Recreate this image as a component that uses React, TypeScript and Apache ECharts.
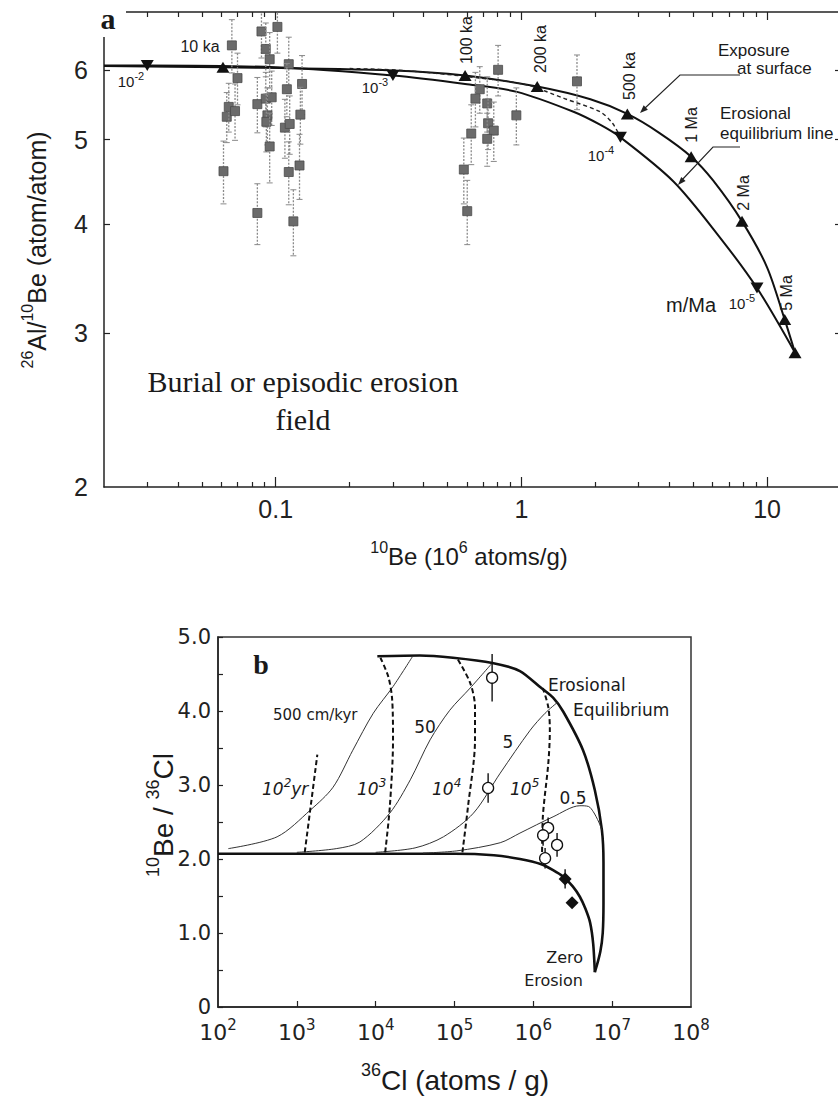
import React, { useEffect, useRef } from "react";
import * as echarts from "echarts";

// ================= Panel a : 26Al/10Be vs 10Be =================
const aXLabelValues = [0.1, 1, 10];
const aXMajorTicks = [0.1, 1, 10];
const aXMinorTicks = [0.03, 0.04, 0.05, 0.06, 0.07, 0.08, 0.09, 0.2, 0.3, 0.4, 0.5, 0.6, 0.7, 0.8, 0.9, 2, 3, 4, 5, 6, 7, 8, 9];
const aYLabelValues = [2, 3, 4, 5, 6];
const aYTickValues = [3, 4, 5, 6];

// constant exposure at surface (upper curve)
const exposureX = [0.02, 0.061, 0.3, 0.59, 1.16, 1.91, 2.7, 3.64, 4.91, 6.03, 7.91, 10.0, 11.8, 13.0];
const exposureY = [6.07, 6.05, 6.0, 5.92, 5.75, 5.56, 5.35, 5.09, 4.78, 4.49, 4.03, 3.57, 3.11, 2.85];
// erosional equilibrium line (lower curve)
const equilibriumX = [0.02, 0.03, 0.1, 0.3, 0.59, 0.96, 1.63, 2.09, 2.53, 4.15, 6.26, 9.1, 13.0];
const equilibriumY = [6.08, 6.08, 6.05, 5.92, 5.79, 5.67, 5.38, 5.2, 5.03, 4.48, 3.9, 3.38, 2.85];
// dashed transition curve
const transitionX = [0.2, 0.33, 0.68, 1.04, 1.5, 2.09, 2.35, 2.53];
const transitionY = [6.03, 6.0, 5.88, 5.78, 5.57, 5.38, 5.22, 5.03];

// exposure-age markers (▲) and erosion-rate markers (▼)
const ageMarkX = [0.061, 0.59, 1.16, 2.7, 4.91, 7.91, 11.8, 13.0];
const ageMarkY = [6.05, 5.92, 5.75, 5.35, 4.78, 4.03, 3.11, 2.85];
const rateMarkX = [0.03, 0.3, 2.53, 9.1];
const rateMarkY = [6.08, 5.92, 5.03, 3.38];

// samples with 1-sigma error bars
const sampleX = [0.0613, 0.0632, 0.0644, 0.0683, 0.0699, 0.0663, 0.0842, 0.0842, 0.0875, 0.0911, 0.0945, 0.0911, 0.0963, 0.0925, 0.0916, 0.0945, 0.1016, 0.113, 0.111, 0.109, 0.114, 0.113, 0.118, 0.128, 0.126, 0.125,
  0.804, 0.677, 0.65, 0.726, 0.625, 0.732, 0.772, 0.726, 0.583, 0.602, 0.954, 1.684];
const sampleY = [4.6, 5.31, 5.45, 5.39, 5.88, 6.41, 5.49, 4.12, 6.65, 6.35, 6.18, 5.57, 5.59, 5.33, 5.24, 4.91, 6.73, 6.1, 5.71, 5.16, 5.21, 4.59, 4.03, 5.79, 5.34, 4.67,
  6.01, 5.71, 5.57, 5.5, 5.08, 5.22, 5.12, 5.01, 4.62, 4.14, 5.33, 5.83];
const sampleErr = [0.38, 0.35, 0.35, 0.4, 0.4, 0.45, 0.4, 0.33, 0.45, 0.45, 0.45, 0.4, 0.4, 0.4, 0.4, 0.45, 0.45, 0.45, 0.4, 0.4, 0.4, 0.38, 0.35, 0.45, 0.4, 0.4,
  0.4, 0.35, 0.4, 0.4, 0.4, 0.35, 0.4, 0.35, 0.4, 0.35, 0.4, 0.42];

// ================= Panel b : 10Be/36Cl vs 36Cl =================
const bXLabelValues = [1e2, 1e3, 1e4, 1e5, 1e6, 1e7, 1e8];
const bXTickValues = [1e3, 1e4, 1e5, 1e6, 1e7];

const erosEqX = [1.05e4, 3.63e4, 9.55e4, 3.02e5, 6.76e5, 1.23e6, 1.78e6, 2.4e6, 4.27e6, 6.03e6, 7.41e6, 7.76e6, 7.76e6, 7.59e6, 7.08e6, 6.03e6];
const erosEqY = [4.74, 4.75, 4.72, 4.65, 4.54, 4.32, 4.18, 3.99, 3.47, 2.93, 2.39, 1.95, 1.4, 1.0, 0.75, 0.47];
const zeroErosX = [100, 1000, 1e4, 1e5, 3.16e5, 6.76e5, 1.26e6, 1.78e6, 2.4e6, 3.16e6, 3.89e6, 4.57e6, 5.25e6, 5.75e6, 6.03e6];
const zeroErosY = [2.07, 2.07, 2.07, 2.07, 2.05, 2.0, 1.93, 1.85, 1.76, 1.63, 1.49, 1.33, 1.14, 0.85, 0.47];

const rate500X = [135, 562, 1.48e3, 2.88e3, 5.13e3, 9.33e3, 1.66e4, 2.95e4];
const rate500Y = [2.14, 2.3, 2.66, 2.97, 3.47, 3.97, 4.33, 4.74];
const rate50X = [1000, 3.16e3, 6.31e3, 1.51e4, 2.75e4, 4.9e4, 8.71e4, 1.58e5, 3.02e5];
const rate50Y = [2.09, 2.14, 2.23, 2.62, 3.07, 3.61, 4.01, 4.31, 4.65];
const rate5X = [1e4, 3.16e4, 7.24e4, 1.74e5, 3.8e5, 9.12e5, 1.41e6, 2.04e6];
const rate5Y = [2.09, 2.15, 2.3, 2.62, 3.16, 3.74, 3.97, 4.12];
const rate05X = [3.98e4, 1.07e5, 3.8e5, 6.76e5, 1.78e6, 3.89e6, 5.01e6, 5.75e6, 6.76e6, 7.41e6];
const rate05Y = [2.08, 2.11, 2.22, 2.35, 2.57, 2.72, 2.71, 2.64, 2.5, 2.39];

const iso1e2X = [1.26e3, 1.82e3];
const iso1e2Y = [2.09, 3.41];
const iso1e3X = [1.32e4, 1.51e4, 1.66e4, 1.62e4, 1.45e4, 1.15e4];
const iso1e3Y = [2.09, 2.7, 3.61, 4.15, 4.46, 4.72];
const iso1e4X = [1.26e5, 1.48e5, 1.82e5, 1.82e5, 1.58e5, 1.07e5];
const iso1e4Y = [2.09, 2.7, 3.61, 4.05, 4.38, 4.72];
const iso1e5X = [1.29e6, 1.32e6, 1.55e6, 1.62e6, 1.55e6, 1.32e6];
const iso1e5Y = [1.99, 2.57, 3.3, 3.74, 4.05, 4.31];

const openX = [3.0e5, 2.67e5, 1.54e6, 1.33e6, 2.0e6, 1.41e6];
const openY = [4.45, 2.96, 2.42, 2.32, 2.19, 2.01];
const openErr = [0.32, 0.2, 0.14, 0.14, 0.16, 0.14];
const filledX = [2.53e6, 3.1e6];
const filledY = [1.73, 1.41];
const filledErr = [0.13, 0.05];

// ================= helpers =================
const FONT = "'Liberation Sans', Arial, sans-serif";
const SERIF = "'Liberation Serif', 'Times New Roman', serif";
const FONTB = "'DejaVu Sans', sans-serif";
const INK = "#1a1a1a";

const zip = (xs: number[], ys: number[]) => xs.map((x, i) => [x, ys[i]]);
const zip3 = (xs: number[], ys: number[], es: number[]) => xs.map((x, i) => [x, ys[i], es[i]]);

function errRender(color: string, dash: number[] | null, cap: number, width: number, square: boolean) {
  return (_p: any, api: any) => {
    const x = api.value(0), y = api.value(1), e = api.value(2);
    const c = api.coord([x, y]);
    const hi = api.coord([x, y + e]);
    const lo = api.coord([x, y - e]);
    const ls: any = { stroke: color, lineWidth: width };
    if (dash) ls.lineDash = dash;
    const children: any[] = [{ type: "line", shape: { x1: c[0], y1: hi[1], x2: c[0], y2: lo[1] }, style: ls }];
    if (cap > 0) {
      children.push({ type: "line", shape: { x1: c[0] - cap, y1: hi[1], x2: c[0] + cap, y2: hi[1] }, style: { stroke: color, lineWidth: 1 } });
      children.push({ type: "line", shape: { x1: c[0] - cap, y1: lo[1], x2: c[0] + cap, y2: lo[1] }, style: { stroke: color, lineWidth: 1 } });
    }
    if (square) {
      children.push({ type: "rect", shape: { x: c[0] - 4.5, y: c[1] - 4.5, width: 9, height: 9 }, style: { fill: "#6b6b6b", stroke: "#4a4a4a", lineWidth: 0.8 } });
    }
    return { type: "group", children };
  };
}

function T(x: number, y: number, text: string, o: any = {}) {
  const size = o.size || 16;
  const family = o.family || FONT;
  const st: any = {
    text,
    fill: o.color || INK,
    fontSize: size,
    fontFamily: family,
    fontWeight: o.weight || "normal",
    fontStyle: o.fstyle || "normal",
    textAlign: o.align || "center",
    textVerticalAlign: o.valign || "middle",
  };
  if (o.sup) {
    st.lineHeight = Math.round(size * 1.4);
    st.rich = {
      s: { fontSize: o.sup, fontFamily: family, fontStyle: o.fstyle || "normal", fill: o.color || INK, verticalAlign: "top", lineHeight: Math.round(o.sup * 1.15) },
    };
  }
  return { type: "text", x, y, rotation: o.rot || 0, z: o.z || 20, silent: true, style: st };
}

const axLine = { show: true, lineStyle: { color: "#222", width: 1.5 } };
const tickStyle = { color: "#222", width: 1.2 };

export default function App() {
  const ref = useRef<HTMLDivElement>(null);
  useEffect(() => {
    if (!ref.current) return;
    const chart = echarts.init(ref.current, null, { renderer: "svg" });

    const aLog = { type: "log", gridIndex: 0, min: 0.02, max: 20, logBase: 10, splitLine: { show: false }, minorTick: { show: false }, minorSplitLine: { show: false } };
    const xAxis: any[] = [
      { ...aLog, position: "bottom", axisLine: axLine,
        axisTick: { show: true, inside: true, length: 5, customValues: aXMinorTicks, lineStyle: tickStyle },
        axisLabel: { show: true, customValues: aXLabelValues, formatter: (v: number) => (v < 1 ? String(v) : String(Math.round(v))), fontSize: 25, fontFamily: FONT, color: "#222", margin: 9 } },
      { ...aLog, position: "bottom", axisLine: { show: false },
        axisTick: { show: true, inside: true, length: 10, customValues: aXMajorTicks, lineStyle: tickStyle }, axisLabel: { show: false } },
      { ...aLog, position: "top", axisLine: axLine,
        axisTick: { show: true, inside: true, length: 5, customValues: aXMinorTicks, lineStyle: tickStyle }, axisLabel: { show: false } },
      { ...aLog, position: "top", axisLine: { show: false },
        axisTick: { show: true, inside: true, length: 8, customValues: aXMajorTicks, lineStyle: tickStyle }, axisLabel: { show: false } },
      { type: "log", gridIndex: 1, min: 100, max: 1e8, logBase: 10, position: "bottom", axisLine: axLine,
        splitLine: { show: false }, minorTick: { show: false },
        axisTick: { show: true, inside: true, length: 6, customValues: bXTickValues, lineStyle: tickStyle },
        axisLabel: { show: true, customValues: bXLabelValues, fontSize: 22, fontFamily: FONTB, color: "#222", margin: 10, lineHeight: 30,
          formatter: (v: number) => "10{s|" + Math.round(Math.log10(v)) + "}",
          rich: { s: { fontSize: 15, fontFamily: FONTB, color: "#222", verticalAlign: "top", lineHeight: 17 } } } },
    ];
    const aYLog = { type: "log", gridIndex: 0, min: 2, max: 7, logBase: 10, splitLine: { show: false }, minorTick: { show: false } };
    const yAxis: any[] = [
      { ...aYLog, position: "left", axisLine: axLine,
        axisTick: { show: true, inside: true, length: 6, customValues: aYTickValues, lineStyle: tickStyle },
        axisLabel: { show: true, customValues: aYLabelValues, formatter: (v: number) => String(Math.round(v)), fontSize: 25, fontFamily: FONT, color: "#222", margin: 16 } },
      { ...aYLog, position: "right", axisLine: axLine,
        axisTick: { show: true, inside: true, length: 6, customValues: aYTickValues, lineStyle: tickStyle }, axisLabel: { show: false } },
      { type: "value", gridIndex: 1, min: 0, max: 5, interval: 0.5, position: "left", axisLine: axLine, splitLine: { show: false },
        axisTick: { show: true, inside: true, length: 5, lineStyle: tickStyle },
        axisLabel: { show: true, fontSize: 21, fontFamily: FONTB, color: "#222", margin: 7,
          formatter: (v: number) => (Math.abs(v - Math.round(v)) < 1e-6 ? (v === 0 ? "0" : v.toFixed(1)) : "") } },
    ];

    const lineA = (name: string, xs: number[], ys: number[], ls: any) => ({
      type: "line", name, xAxisIndex: 0, yAxisIndex: 0, data: zip(xs, ys), smooth: 0.3, symbol: "none", showSymbol: false, lineStyle: ls, z: 3, silent: true,
    });
    const lineB = (name: string, xs: number[], ys: number[], ls: any, smooth = 0.3) => ({
      type: "line", name, xAxisIndex: 4, yAxisIndex: 2, data: zip(xs, ys), smooth, symbol: "none", showSymbol: false, lineStyle: ls, z: 3, silent: true,
    });

    const thickB = { color: "#111", width: 2.6 };
    const thinB = { color: "#333", width: 1 };
    const dashB = { color: "#111", width: 2, type: [5, 3] };

    const series: any[] = [
      lineA("exposure", exposureX, exposureY, { color: "#111", width: 2 }),
      lineA("equilibrium", equilibriumX, equilibriumY, { color: "#111", width: 2 }),
      lineA("transition", transitionX, transitionY, { color: "#222", width: 1.4, type: [4, 3] }),
      { type: "custom", xAxisIndex: 0, yAxisIndex: 0, data: zip3(sampleX, sampleY, sampleErr), encode: { x: 0, y: 1 }, clip: true, z: 4, silent: true,
        renderItem: errRender("#8a8a8a", [2, 1.5], 3, 1.3, true) },
      { type: "scatter", xAxisIndex: 0, yAxisIndex: 0, data: zip(ageMarkX, ageMarkY), symbol: "triangle", symbolSize: [13, 11], itemStyle: { color: "#111", opacity: 1 }, z: 6, silent: true },
      { type: "scatter", xAxisIndex: 0, yAxisIndex: 0, data: zip(rateMarkX, rateMarkY), symbol: "triangle", symbolRotate: 180, symbolSize: [13, 11], itemStyle: { color: "#111", opacity: 1 }, z: 6, silent: true },

      lineB("erosional equilibrium", erosEqX, erosEqY, thickB, 0.25),
      lineB("zero erosion", zeroErosX, zeroErosY, thickB, 0.25),
      lineB("500 cm/kyr", rate500X, rate500Y, thinB),
      lineB("50 cm/kyr", rate50X, rate50Y, thinB),
      lineB("5 cm/kyr", rate5X, rate5Y, thinB),
      lineB("0.5 cm/kyr", rate05X, rate05Y, thinB),
      lineB("1e2 yr", iso1e2X, iso1e2Y, dashB, 0),
      lineB("1e3 yr", iso1e3X, iso1e3Y, dashB),
      lineB("1e4 yr", iso1e4X, iso1e4Y, dashB),
      lineB("1e5 yr", iso1e5X, iso1e5Y, dashB),
      { type: "custom", xAxisIndex: 4, yAxisIndex: 2, data: zip3(openX, openY, openErr), encode: { x: 0, y: 1 }, clip: true, z: 5, silent: true,
        renderItem: errRender("#111", null, 0, 1.4, false) },
      { type: "custom", xAxisIndex: 4, yAxisIndex: 2, data: zip3(filledX, filledY, filledErr), encode: { x: 0, y: 1 }, clip: true, z: 5, silent: true,
        renderItem: errRender("#111", null, 0, 1.4, false) },
      { type: "scatter", xAxisIndex: 4, yAxisIndex: 2, data: zip(openX, openY), symbol: "circle", symbolSize: 11,
        itemStyle: { color: "#ffffff", borderColor: "#111", borderWidth: 1.3, opacity: 1 }, z: 7, silent: true },
      { type: "scatter", xAxisIndex: 4, yAxisIndex: 2, data: zip(filledX, filledY), symbol: "diamond", symbolSize: 13,
        itemStyle: { color: "#111", opacity: 1 }, z: 7, silent: true },
    ];

    const graphic: any[] = [
      // panel a corner label
      { type: "rect", shape: { x: 90, y: 0, width: 36, height: 37 }, style: { fill: "#fff" }, z: 50, silent: true },
      T(108, 18, "a", { size: 30, family: SERIF, weight: "bold", z: 51 }),
      // curve annotations
      T(200, 46, "10 ka", { size: 16 }),
      T(131, 81, "10{s|-2}", { size: 15, sup: 11 }),
      T(375, 87, "10{s|-3}", { size: 15, sup: 11 }),
      T(601, 155, "10{s|-4}", { size: 15, sup: 11 }),
      T(742, 303, "10{s|-5}", { size: 15, sup: 11 }),
      T(691, 305, "m/Ma", { size: 20 }),
      T(466, 40, "100 ka", { size: 16, rot: Math.PI / 2 }),
      T(540, 49, "200 ka", { size: 16, rot: Math.PI / 2 }),
      T(629, 76, "500 ka", { size: 16, rot: Math.PI / 2 }),
      T(691, 125, "1 Ma", { size: 16, rot: Math.PI / 2 }),
      T(743, 193, "2 Ma", { size: 16, rot: Math.PI / 2 }),
      T(786, 293, "5 Ma", { size: 16, rot: Math.PI / 2 }),
      T(718, 50, "Exposure", { size: 17, align: "left" }),
      T(737, 68, "at surface", { size: 17, align: "left" }),
      T(720, 113, "Erosional", { size: 17, align: "left" }),
      T(720, 133, "equilibrium line", { size: 17, align: "left" }),
      { type: "polyline", shape: { points: [[740, 75], [680, 75], [644, 109]] }, style: { stroke: "#222", lineWidth: 1.1, fill: null }, z: 20, silent: true },
      { type: "polygon", shape: { points: [[640, 113], [647.9, 109.7], [643.7, 105.3]] }, style: { fill: "#222" }, z: 20, silent: true },
      { type: "polyline", shape: { points: [[740, 147], [713, 147], [681, 181]] }, style: { stroke: "#222", lineWidth: 1.1, fill: null }, z: 20, silent: true },
      { type: "polygon", shape: { points: [[678, 185], [685.6, 181.1], [681.2, 177.1]] }, style: { fill: "#222" }, z: 20, silent: true },
      T(303, 381, "Burial or episodic erosion", { size: 30, family: SERIF }),
      T(303, 419, "field", { size: 30, family: SERIF }),
      // axis titles panel a
      T(37, 250, "{s|26}Al/{s|10}Be (atom/atom)", { size: 25, sup: 16, rot: Math.PI / 2 }),
      T(469, 556, "{s|10}Be (10{s|6} atoms/g)", { size: 24, sup: 16 }),

      // panel b
      T(261, 664, "b", { size: 28, family: SERIF, weight: "bold" }),
      T(273, 715, "500 cm/kyr", { size: 15, family: FONTB, align: "left" }),
      T(425, 727, "50", { size: 17, family: FONTB }),
      T(508, 742, "5", { size: 17, family: FONTB }),
      T(573, 798, "0.5", { size: 17, family: FONTB }),
      T(262, 789, "10{s|2}yr", { size: 17, family: FONTB, fstyle: "italic", align: "left", sup: 12 }),
      T(357, 789, "10{s|3}", { size: 17, family: FONTB, fstyle: "italic", align: "left", sup: 12 }),
      T(432, 789, "10{s|4}", { size: 17, family: FONTB, fstyle: "italic", align: "left", sup: 12 }),
      T(510, 789, "10{s|5}", { size: 17, family: FONTB, fstyle: "italic", align: "left", sup: 12 }),
      T(548, 685, "Erosional", { size: 17, family: FONTB, align: "left" }),
      T(573, 710, "Equilibrium", { size: 17, family: FONTB, align: "left" }),
      T(583, 957, "Zero", { size: 16, family: FONTB, align: "right" }),
      T(583, 980, "Erosion", { size: 16, family: FONTB, align: "right" }),
      T(163, 815, "{s|10}Be / {s|36}Cl", { size: 28, sup: 18, rot: Math.PI / 2 }),
      T(455, 1080, "{s|36}Cl (atoms / g)", { size: 28, sup: 18 }),
    ];

    chart.setOption({
      animation: false,
      backgroundColor: "#ffffff",
      tooltip: { show: false },
      grid: [
        { left: 104, top: 12, width: 737, height: 475, containLabel: false, outerBoundsMode: "none" },
        { left: 218, top: 637, width: 473, height: 370, containLabel: false, outerBoundsMode: "none", show: true, borderColor: "#333", borderWidth: 1.5, backgroundColor: "transparent" },
      ],
      xAxis,
      yAxis,
      series,
      graphic,
    });
    return () => chart.dispose();
  }, []);
  return <div ref={ref} style={{ position: "absolute", left: 0, top: 0, width: 838, height: 1102, background: "#fff" }} />;
}
